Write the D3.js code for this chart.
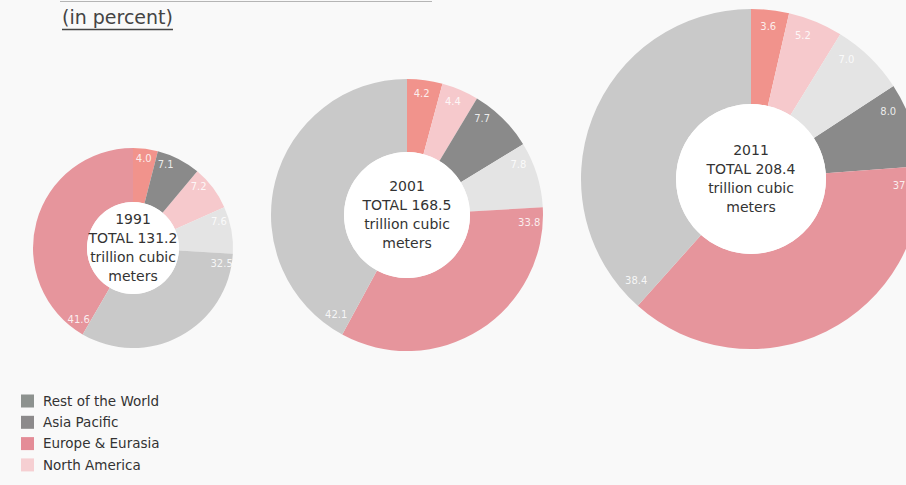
<!DOCTYPE html>
<html>
<head>
<meta charset="utf-8">
<script src="https://cdn.jsdelivr.net/npm/d3@7/dist/d3.min.js"></script>
<style>
  html, body { margin: 0; padding: 0; background: #f9f9f9; }
  svg { display: block; }
</style>
</head>
<body>
<svg id="chart" width="906" height="485"></svg>
<script>
// Proved natural gas reserves, share by region (in percent)
const years = ["1991", "2001", "2011"];
const totals = [131.2, 168.5, 208.4];
const regions = ["South & Central America", "North America", "Asia Pacific", "Africa", "Europe & Eurasia", "Middle East"];
const regionColors = ["#f1938c", "#f6c9cc", "#8a8a8a", "#e4e4e4", "#e6959c", "#c9c9c9"];
const share1991 = [4.0, 7.2, 7.1, 7.6, 41.6, 32.5];
const share2001 = [4.2, 4.4, 7.7, 7.8, 33.8, 42.1];
const share2011 = [3.6, 5.2, 8.0, 7.0, 37.8, 38.4];
const shares = [share1991, share2001, share2011];

const legendLabels = ["Rest of the World", "Asia Pacific", "Europe & Eurasia", "North America"];
const legendColors = ["#8d928f", "#8c8a8b", "#e48c97", "#f6cfd2"];

// ring placement on the page
const rings = [
  { cx: 133, cy: 248, outer: 100, inner: 46 },
  { cx: 407, cy: 215, outer: 136, inner: 63 },
  { cx: 751, cy: 179, outer: 170, inner: 75 }
];

const svg = d3.select("#chart");
const FONT = "'DejaVu Sans', sans-serif";

// title (first line sits above the page, only its underline shows)
svg.append("line")
  .attr("x1", 60).attr("x2", 432).attr("y1", 1.5).attr("y2", 1.5)
  .attr("stroke", "#b5b5b5").attr("stroke-width", 1.2);
const sub = svg.append("text")
  .attr("x", 62).attr("y", 24)
  .attr("font-family", FONT).attr("font-size", 19)
  .attr("fill", "#444444")
  .text("(in percent)");
const subW = sub.node().getComputedTextLength();
svg.append("line")
  .attr("x1", 62).attr("x2", 62 + subW).attr("y1", 29.5).attr("y2", 29.5)
  .attr("stroke", "#444444").attr("stroke-width", 1.3);

const pie = d3.pie()
  .value(d => d.v)
  .sort((a, b) => a.v - b.v);

years.forEach((yr, i) => {
  const L = rings[i];
  const data = regions.map((name, k) => ({ name, v: shares[i][k], color: regionColors[k] }));
  const arcs = pie(data);
  const arc = d3.arc().innerRadius(L.inner).outerRadius(L.outer);
  const g = svg.append("g").attr("transform", `translate(${L.cx},${L.cy})`);

  g.selectAll("path.slice").data(arcs).join("path")
    .attr("class", "slice")
    .attr("d", arc)
    .attr("fill", d => d.data.color);

  g.append("circle").attr("r", L.inner).attr("fill", "#ffffff");

  // value labels near the outer rim, just past each slice's start
  const rLab = L.outer * 0.9;
  g.selectAll("text.val").data(arcs).join("text")
    .attr("class", "val")
    .attr("transform", d => {
      const a = d.startAngle + Math.min((d.endAngle - d.startAngle) / 2, 0.12);
      return `translate(${rLab * Math.sin(a)},${-rLab * Math.cos(a)})`;
    })
    .attr("text-anchor", "middle")
    .attr("dy", "0.35em")
    .attr("font-family", FONT).attr("font-size", 10)
    .attr("fill", "#ffffff")
    .attr("fill-opacity", 0.85)
    .text(d => d3.format(".1f")(d.data.v));

  const lines = [yr, `TOTAL ${totals[i]}`, "trillion cubic", "meters"];
  const lh = 19;
  g.selectAll("text.ctr").data(lines).join("text")
    .attr("class", "ctr")
    .attr("text-anchor", "middle")
    .attr("y", (d, j) => (j - 1.5) * lh)
    .attr("dy", "0.35em")
    .attr("font-family", FONT).attr("font-size", 14)
    .attr("fill", "#333333")
    .text(d => d);
});

// legend
const leg = svg.append("g").attr("transform", "translate(21,401)");
const rowH = 21.3;
legendLabels.forEach((lab, k) => {
  const row = leg.append("g").attr("transform", `translate(0,${k * rowH})`);
  row.append("rect").attr("x", 0).attr("y", -6.5).attr("width", 13).attr("height", 13)
    .attr("fill", legendColors[k]);
  row.append("text").attr("x", 22).attr("dy", "0.35em")
    .attr("font-family", FONT).attr("font-size", 13.5)
    .attr("fill", "#333333")
    .text(lab);
});
</script>
</body>
</html>
